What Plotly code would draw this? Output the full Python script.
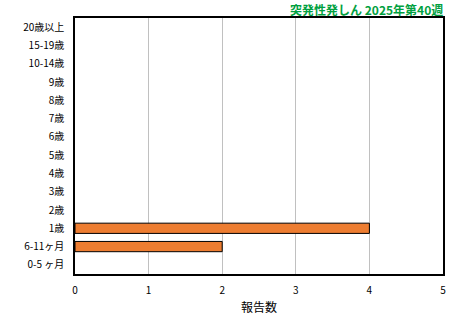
import plotly.graph_objects as go

categories = ["0-5 ヶ月", "6-11ヶ月", "1歳", "2歳", "3歳", "4歳", "5歳", "6歳", "7歳", "8歳", "9歳", "10-14歳", "15-19歳", "20歳以上"]
values = [0, 2, 4, 0, 0, 0, 0, 0, 0, 0, 0, 0, 0, 0]
title_text = "突発性発しん 2025年第40週"
x_title = "報告数"

font_family = "Noto Sans CJK JP"

fig = go.Figure(go.Bar(
    y=categories, x=values, orientation="h",
    marker=dict(color="#ED7D31",
                line=dict(color="#000000", width=[1 if v > 0 else 0 for v in values])),
))

fig.update_layout(
    width=460, height=320,
    margin=dict(l=75, r=17, t=18, b=46),
    paper_bgcolor="white", plot_bgcolor="white",
    bargap=0.44,
    showlegend=False,
    font=dict(family=font_family, size=10, color="#000000"),
    annotations=[dict(
        text="<b>" + title_text + "</b>", x=1, y=1, xref="paper", yref="paper",
        xanchor="right", yanchor="bottom", yshift=-2, xshift=2, showarrow=False,
        font=dict(family=font_family, size=12, color="#00A040"),
    )],
)
fig.update_xaxes(
    range=[0, 5], dtick=1, showgrid=True, gridcolor="#C0C0C0", gridwidth=1,
    showline=True, linecolor="#000000", linewidth=1.5, mirror=True,
    zeroline=False, ticks="", tickfont=dict(size=10), ticklabelstandoff=6,
    title=dict(text=x_title, font=dict(size=12), standoff=8), automargin=False,
)
fig.update_yaxes(
    categoryorder="array", categoryarray=categories,
    showline=True, linecolor="#000000", linewidth=1.5, mirror=True,
    ticks="", tickfont=dict(size=10), ticklabelstandoff=7, automargin=False,
)

fig.write_html("out.html")
